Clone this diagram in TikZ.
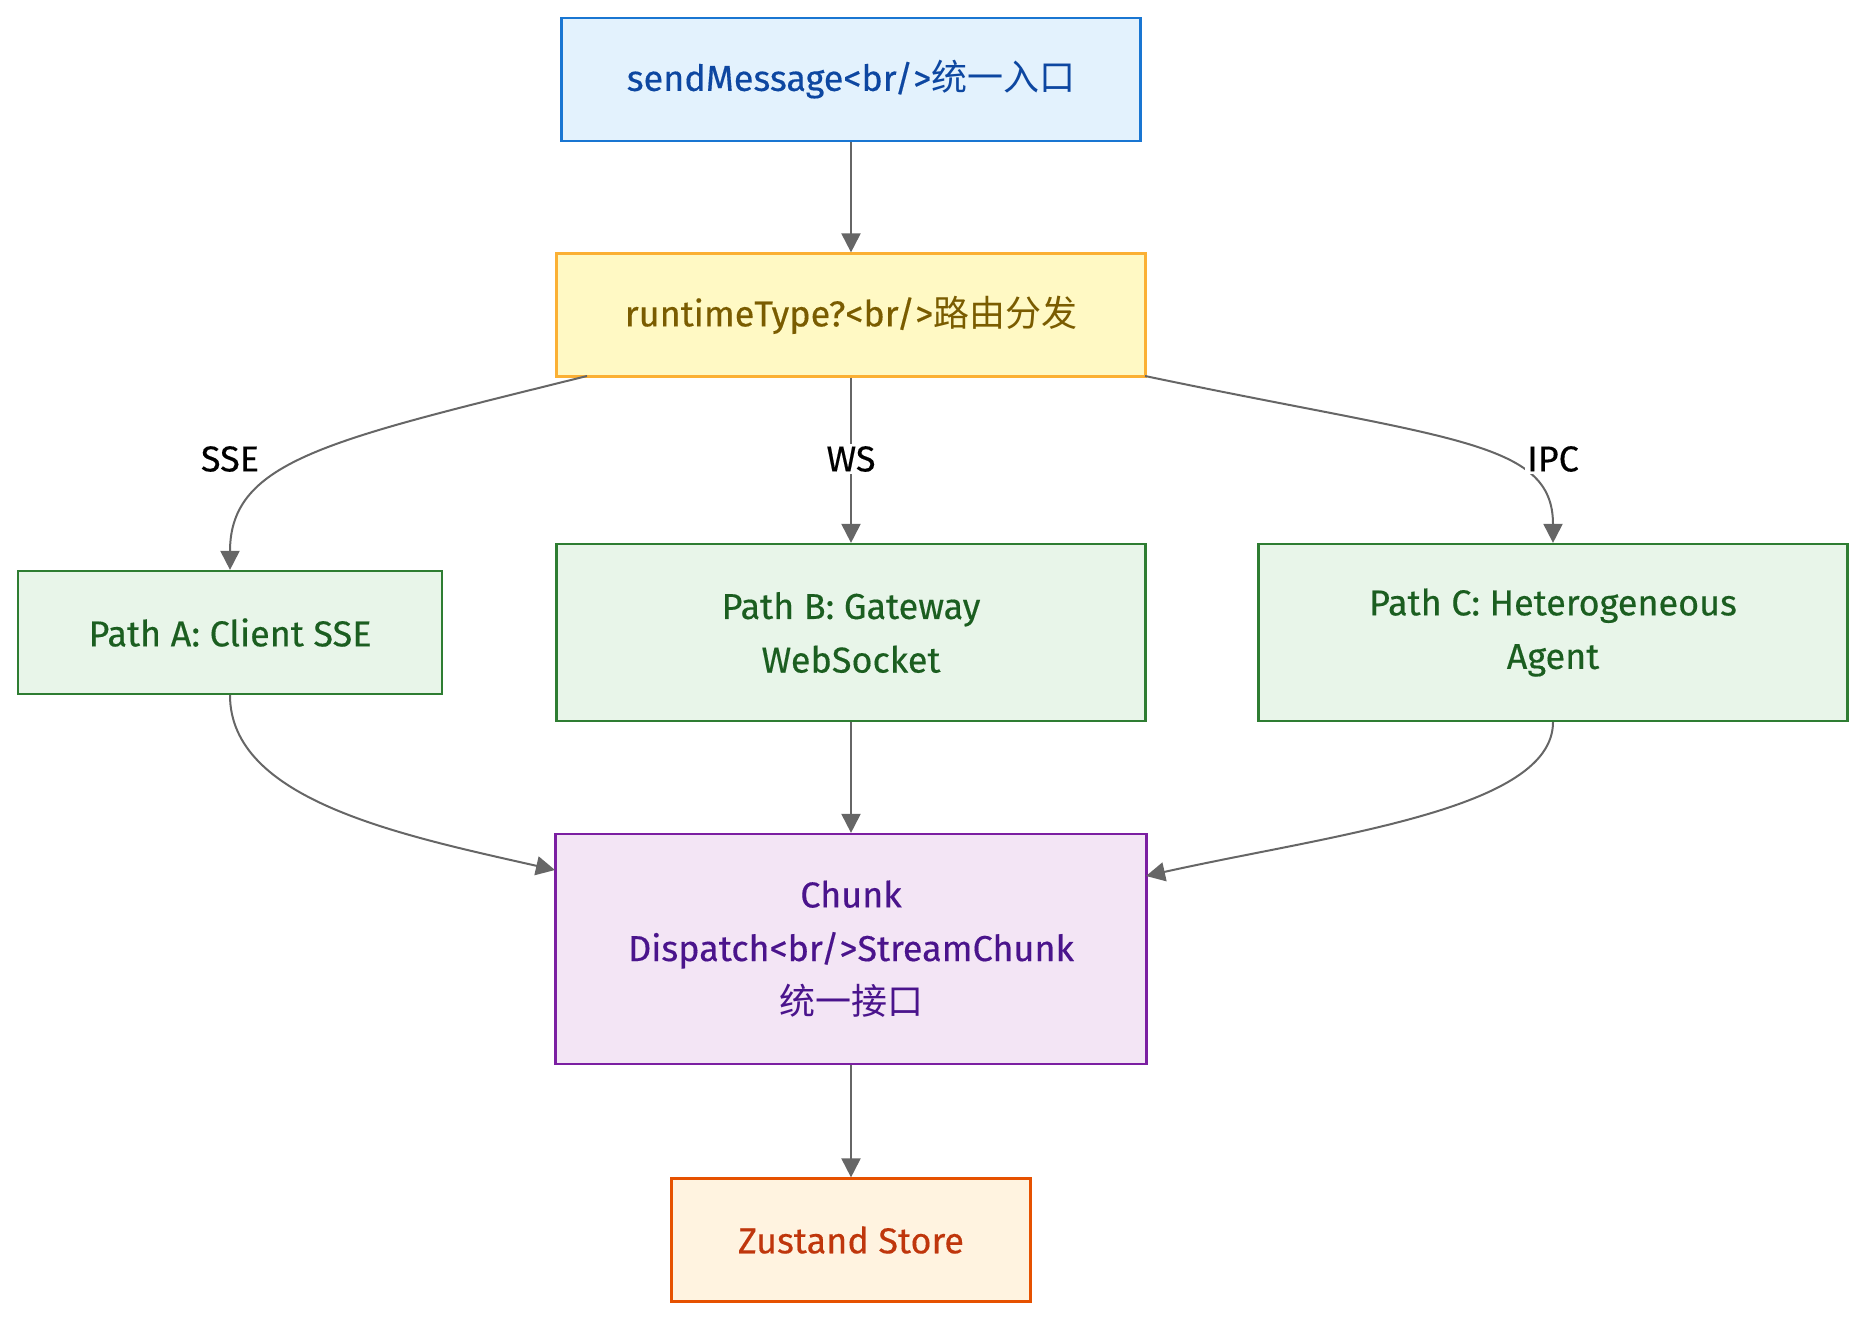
\documentclass[tikz,border=0pt]{standalone}
\usepackage{fontspec}
\setmainfont{Fira Sans}[FakeBold=0.35]
\newfontfamily\cjk{Noto Sans CJK SC}
\usetikzlibrary{positioning,arrows.meta}

\definecolor{entryfill}{HTML}{E3F2FD}
\definecolor{entryline}{HTML}{1976D2}
\definecolor{entrytext}{HTML}{0D47A1}
\definecolor{routefill}{HTML}{FFF9C4}
\definecolor{routeline}{HTML}{FBB034}
\definecolor{routetext}{HTML}{7A5C00}
\definecolor{pathfill}{HTML}{E8F5E9}
\definecolor{pathline}{HTML}{2E7D32}
\definecolor{pathtext}{HTML}{1B5E20}
\definecolor{hubfill}{HTML}{F3E5F5}
\definecolor{hubline}{HTML}{7B1FA2}
\definecolor{hubtext}{HTML}{4A148C}
\definecolor{storefill}{HTML}{FFF3E0}
\definecolor{storeline}{HTML}{E65100}
\definecolor{storetext}{HTML}{BF360C}
\definecolor{edgegray}{HTML}{666666}

\begin{document}
\begin{tikzpicture}[
  x=0.5pt,y=-0.5pt,
  >={Triangle[length=9.5pt,width=9.5pt]},
  font=\fontsize{18pt}{26.8pt}\selectfont,
  box/.style={draw,line width=1.1pt,inner sep=0pt,align=center,minimum height=61.5pt},
  entry/.style={box,fill=entryfill,draw=entryline,text=entrytext,minimum width=289.5pt},
  router/.style={box,fill=routefill,draw=routeline,text=routetext,minimum width=294.5pt},
  pathbox/.style={box,fill=pathfill,draw=pathline,text=pathtext},
  hub/.style={box,fill=hubfill,draw=hubline,text=hubtext,minimum width=295.5pt,minimum height=115pt},
  store/.style={box,fill=storefill,draw=storeline,text=storetext,minimum width=179.5pt},
  flow/.style={->,draw=edgegray,line width=1pt},
  lbl/.style={fill=white,inner sep=1pt,text=black}
]
  \useasboundingbox (0,0) rectangle (1868,1320);

  \node[entry] (send) at (851,79.5) {sendMessage<br/>{\cjk 统一入口}};
  \node[router] (route) at (851,315) {runtimeType?<br/>{\cjk 路由分发}};
  \node[pathbox,minimum width=212pt] (pathA) at (230,632.5) {Path A: Client SSE};
  \node[pathbox,minimum width=294.5pt,minimum height=88.5pt] (pathB) at (851,632.5)
    {Path B: Gateway\\WebSocket};
  \node[pathbox,minimum width=294.5pt,minimum height=88.5pt] (pathC) at (1553,632.5)
    {Path C: Heterogeneous\\Agent};
  \node[hub] (hub) at (851,949) {Chunk\\Dispatch<br/>StreamChunk\\{\cjk 统一接口}};
  \node[store] (store) at (851,1240) {Zustand Store};

  \coordinate (routeSW) at (587,376);
  \coordinate (routeSE) at (1145,376);
  \coordinate (hubW) at (555,870);
  \coordinate (hubE) at (1146,876);

  \draw[flow] (send) -- (route);
  \draw[flow] (routeSW) .. controls (330,440) and (pathA.north |- 0,460) .. (pathA.north);
  \draw[flow] (route) -- (pathB);
  \draw[flow] (routeSE) .. controls (1450,440) and (pathC.north |- 0,440) .. (pathC.north);
  \draw[flow] (pathA.south) .. controls (pathA.south |- 0,800) and (400,835) .. (hubW);
  \draw[flow] (pathB) -- (hub);
  \draw[flow] (pathC.south) .. controls (pathC.south |- 0,810) and (1330,835) .. (hubE);
  \draw[flow] (hub) -- (store);

  \node[lbl] (lblSSE) at (230,459) {SSE};
  \node[lbl] (lblWS) at (851,459) {WS};
  \node[lbl] (lblIPC) at (1553,459) {IPC};
\end{tikzpicture}
\end{document}
